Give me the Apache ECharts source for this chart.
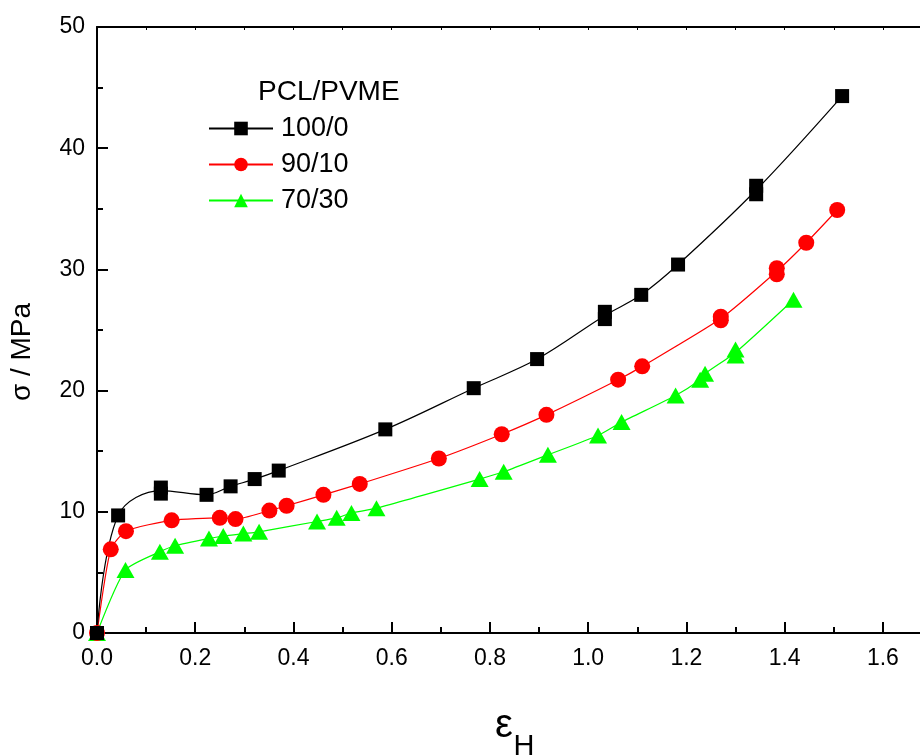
<!DOCTYPE html>
<html><head><meta charset="utf-8">
<script src="https://cdn.jsdelivr.net/npm/echarts@6/dist/echarts.min.js"></script>
<style>html,body{margin:0;padding:0;background:#fff}#c{width:920px;height:756px}</style>
</head><body><div id="c"></div>
<script>
const legendTitle = 'PCL/PVME';
const seriesNames = ['100/0', '90/10', '70/30'];
const xTicks = [0, 0.2, 0.4, 0.6, 0.8, 1.0, 1.2, 1.4, 1.6];
const yTicks = [0, 10, 20, 30, 40, 50];

const x100 = [0, 0.043, 0.130, 0.130, 0.223, 0.272, 0.321, 0.370, 0.587, 0.767, 0.896, 1.034, 1.034, 1.108, 1.183, 1.342, 1.342, 1.517];
const y100 = [0, 9.7, 12.0, 11.5, 11.4, 12.1, 12.7, 13.4, 16.8, 20.2, 22.6, 25.9, 26.5, 27.9, 30.4, 36.2, 36.9, 44.3];

const x90 = [0, 0.028, 0.059, 0.152, 0.250, 0.282, 0.351, 0.386, 0.461, 0.535, 0.696, 0.824, 0.915, 1.061, 1.110, 1.270, 1.270, 1.384, 1.384, 1.444, 1.507];
const y90 = [0, 6.9, 8.4, 9.3, 9.5, 9.4, 10.1, 10.5, 11.4, 12.3, 14.4, 16.4, 18.0, 20.9, 22.0, 25.8, 26.1, 29.6, 30.1, 32.2, 34.9];

const x70 = [0, 0.058, 0.128, 0.159, 0.228, 0.257, 0.298, 0.330, 0.448, 0.488, 0.518, 0.569, 0.779, 0.828, 0.918, 1.020, 1.068, 1.178, 1.228, 1.238, 1.300, 1.300, 1.418];
const y70 = [0, 5.2, 6.7, 7.2, 7.8, 8.0, 8.2, 8.35, 9.2, 9.5, 9.9, 10.3, 12.7, 13.3, 14.7, 16.3, 17.4, 19.6, 20.9, 21.4, 22.9, 23.4, 27.5];

const pair = (xs, ys) => xs.map((v, i) => [v, ys[i]]);
// curve data: repeated measurements at the same strain are averaged so the line passes between them
function merged(xs, ys) {
  const out = [];
  for (let i = 0; i < xs.length; i++) {
    const last = out[out.length - 1];
    if (last && Math.abs(last[0] - xs[i]) < 1e-9) {
      last[2] += 1; last[1] += (ys[i] - last[1]) / last[2];
    } else out.push([xs[i], ys[i], 1]);
  }
  return out.map(p => [p[0], p[1]]);
}
const FONT = 'Liberation Sans, Arial, sans-serif';
const colors = ['#000000', '#ff0000', '#00ff00'];
const symbols = ['rect', 'circle', 'triangle'];
const sizes = [14, 16, [18, 16]];
const smooths = [0.35, 0.2, 0.2];
const xsAll = [x100, x90, x70], ysAll = [y100, y90, y70];

const series = [];
seriesNames.forEach((n, k) => {
  series.push({name: n, type: 'line', data: merged(xsAll[k], ysAll[k]), smooth: smooths[k],
    symbol: symbols[k], showSymbol: false, color: colors[k],
    lineStyle: {color: colors[k], width: 1.2}, itemStyle: {color: colors[k]}, z: 3 - k});
});
seriesNames.forEach((n, k) => {
  series.push({name: n, type: 'scatter', data: pair(xsAll[k], ysAll[k]),
    symbol: symbols[k], symbolSize: sizes[k], color: colors[k],
    itemStyle: {color: colors[k], opacity: 1}, z: 6 - k});
});

const chart = echarts.init(document.getElementById('c'), null, {renderer: 'canvas'});
chart.setOption({
  animation: false,
  backgroundColor: '#fff',
  grid: {left: 97, top: 27, width: 835, height: 606, show: false, outerBoundsMode: 'none', containLabel: false},
  title: {
    text: legendTitle, left: 258, top: 78, padding: 0,
    textStyle: {fontFamily: FONT, fontSize: 28, fontWeight: 'normal', color: '#000'}
  },
  legend: {
    orient: 'vertical', left: 208, top: 115, padding: 0,
    itemWidth: 64, itemHeight: 17, itemGap: 9,
    data: seriesNames,
    textStyle: {fontFamily: FONT, fontSize: 27, color: '#000', lineHeight: 27, padding: [0, 0, 0, 3]}
  },
  xAxis: [{
    type: 'value', min: 0, max: 1.7, interval: 0.2, position: 'bottom',
    axisLine: {show: true, onZero: false, lineStyle: {color: '#000', width: 2}},
    axisTick: {show: true, inside: true, length: 11, lineStyle: {color: '#000', width: 2}},
    minorTick: {show: true, splitNumber: 2, length: 6, lineStyle: {color: '#000', width: 2}},
    splitLine: {show: false},
    axisLabel: {
      fontFamily: FONT, fontSize: 23, color: '#000', margin: 14, showMaxLabel: false,
      formatter: v => (xTicks.some(t => Math.abs(t - v) < 1e-6) ? v.toFixed(1) : '')
    }
  }, {
    type: 'value', min: 0, max: 1.7, interval: 0.2, position: 'top',
    axisLine: {show: true, onZero: false, lineStyle: {color: '#000', width: 2}},
    axisTick: {show: true, inside: true, length: 3, lineStyle: {color: '#000', width: 1}},
    minorTick: {show: true, splitNumber: 2, length: 3, lineStyle: {color: '#000', width: 1}},
    splitLine: {show: false}, axisLabel: {show: false}
  }],
  yAxis: [{
    type: 'value', min: 0, max: 50, interval: 10,
    axisLine: {show: true, onZero: false, lineStyle: {color: '#000', width: 2}},
    axisTick: {show: true, inside: true, length: 11, lineStyle: {color: '#000', width: 2}},
    minorTick: {show: true, splitNumber: 2, length: 6, lineStyle: {color: '#000', width: 2}},
    splitLine: {show: false},
    axisLabel: {
      fontFamily: FONT, fontSize: 23, color: '#000', margin: 12,
      formatter: v => (yTicks.indexOf(v) >= 0 ? String(v) : '')
    }
  }],
  graphic: [
    {type: 'text', x: 22, y: 352, rotation: Math.PI / 2,
      style: {text: 'σ / MPa', fontFamily: FONT, fontSize: 28, fill: '#000', align: 'center', verticalAlign: 'middle'}},
    {type: 'text', x: 504, y: 726,
      style: {text: 'ε', fontFamily: FONT, fontSize: 40, fill: '#000', align: 'center', verticalAlign: 'middle'}},
    {type: 'text', x: 524, y: 747,
      style: {text: 'H', fontFamily: FONT, fontSize: 29, fill: '#000', align: 'center', verticalAlign: 'middle'}}
  ],
  series: series
});
</script>
</body></html>
